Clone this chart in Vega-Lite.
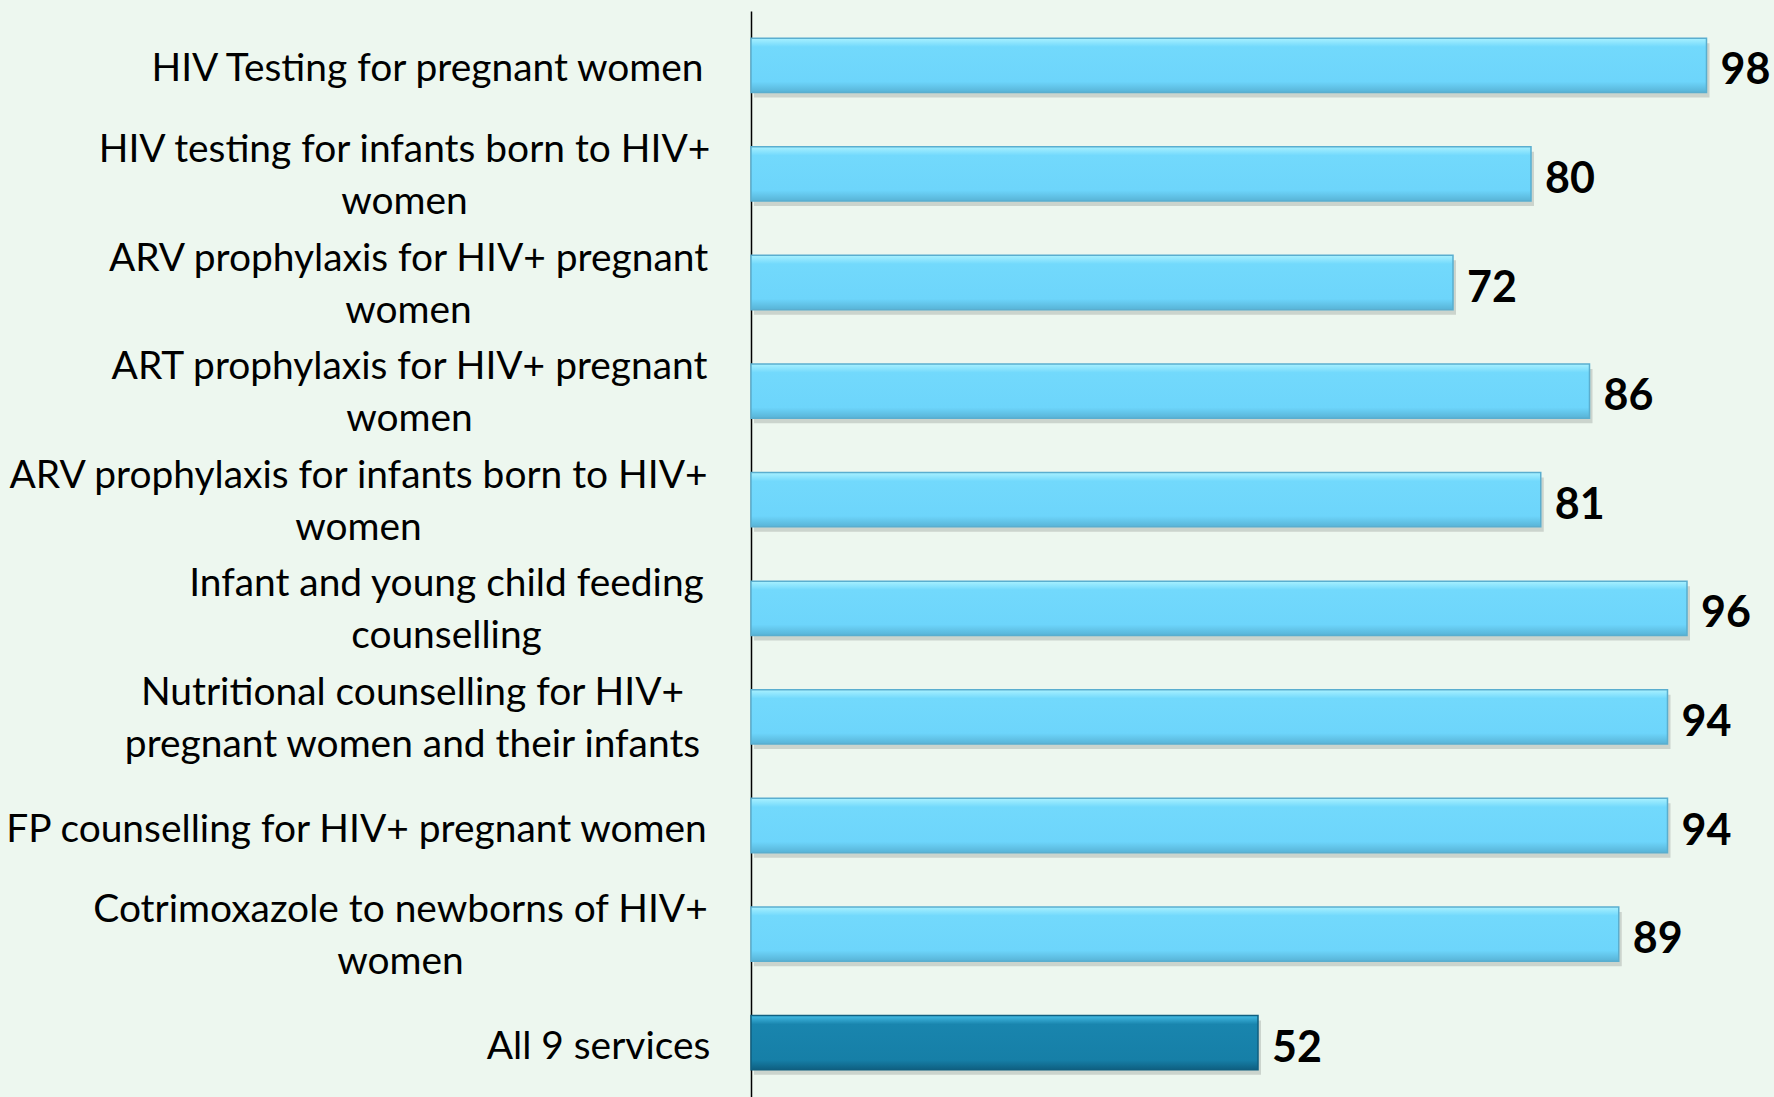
{
  "$schema": "https://vega.github.io/schema/vega-lite/v6.json",
  "autosize": "none",
  "width": 975,
  "height": 1086,
  "padding": {"left": 751, "top": 11, "right": 48, "bottom": 0},
  "background": "#EDF7EF",
  "config": {"view": {"stroke": null}},
  "data": {
    "values": [
      {"service": "HIV Testing for pregnant women", "pct": 98, "group": "service"},
      {"service": "HIV testing for infants born to HIV+|women", "pct": 80, "group": "service"},
      {"service": "ARV prophylaxis for HIV+ pregnant|women", "pct": 72, "group": "service"},
      {"service": "ART prophylaxis for HIV+ pregnant|women", "pct": 86, "group": "service"},
      {"service": "ARV prophylaxis for infants born to HIV+|women", "pct": 81, "group": "service"},
      {"service": "Infant and young child feeding|counselling", "pct": 96, "group": "service"},
      {"service": "Nutritional counselling for HIV+|pregnant women and their infants", "pct": 94, "group": "service"},
      {"service": "FP counselling for HIV+ pregnant women", "pct": 94, "group": "service"},
      {"service": "Cotrimoxazole to newborns of HIV+|women", "pct": 89, "group": "service"},
      {"service": "All 9 services", "pct": 52, "group": "all"}
    ]
  },
  "encoding": {
    "y": {
      "field": "service",
      "type": "nominal",
      "sort": null,
      "scale": {"paddingInner": 0.5, "paddingOuter": 0.25},
      "axis": {
        "title": null,
        "ticks": false,
        "grid": false,
        "domain": true,
        "domainColor": "#000000",
        "domainWidth": 1.5,
        "labelExpr": "split(datum.label, '|')",
        "labelFont": "Lato",
        "labelFontSize": 38.9,
        "labelColor": "#000000",
        "labelLimit": 0,
        "labelLineHeight": 52,
        "labelAlign": "center",
        "labelBaseline": "middle",
        "labelOffset": {
          "condition": {"test": "indexof(datum.value, '|') >= 0", "value": -24},
          "value": 4
        },
        "labelPadding": {
          "condition": [
            {"test": "datum.value == 'HIV Testing for pregnant women'", "value": 324},
            {"test": "datum.value == 'HIV testing for infants born to HIV+|women'", "value": 347},
            {"test": "datum.value == 'ARV prophylaxis for HIV+ pregnant|women'", "value": 343},
            {"test": "datum.value == 'ART prophylaxis for HIV+ pregnant|women'", "value": 342},
            {"test": "datum.value == 'ARV prophylaxis for infants born to HIV+|women'", "value": 393},
            {"test": "datum.value == 'Infant and young child feeding|counselling'", "value": 305},
            {"test": "datum.value == 'Nutritional counselling for HIV+|pregnant women and their infants'", "value": 339},
            {"test": "datum.value == 'FP counselling for HIV+ pregnant women'", "value": 395},
            {"test": "datum.value == 'Cotrimoxazole to newborns of HIV+|women'", "value": 351},
            {"test": "datum.value == 'All 9 services'", "value": 153}
          ],
          "value": 300
        }
      }
    },
    "x": {"field": "pct", "type": "quantitative", "scale": {"domain": [0, 100]}, "axis": null}
  },
  "layer": [
    {
      "mark": {"type": "bar", "color": "#000000", "opacity": 0.14, "xOffset": 3, "yOffset": 5}
    },
    {
      "transform": [{"filter": "datum.group == 'service'"}],
      "mark": {
        "type": "bar",
        "stroke": "#5AAECF",
        "strokeWidth": 1.5,
        "color": {
          "gradient": "linear",
          "x1": 0, "y1": 0, "x2": 0, "y2": 1,
          "stops": [
            {"offset": 0, "color": "#A9F1FF"},
            {"offset": 0.16, "color": "#72D9FC"},
            {"offset": 0.8, "color": "#6DD5FB"},
            {"offset": 1, "color": "#58B3D6"}
          ]
        }
      }
    },
    {
      "transform": [{"filter": "datum.group == 'all'"}],
      "mark": {
        "type": "bar",
        "stroke": "#0F5F80",
        "strokeWidth": 1.5,
        "color": {
          "gradient": "linear",
          "x1": 0, "y1": 0, "x2": 0, "y2": 1,
          "stops": [
            {"offset": 0, "color": "#45BDE6"},
            {"offset": 0.16, "color": "#1985AE"},
            {"offset": 0.82, "color": "#167FA7"},
            {"offset": 1, "color": "#0E5E80"}
          ]
        }
      }
    },
    {
      "mark": {"type": "text", "align": "left", "baseline": "middle", "dx": 14, "dy": 6, "font": "Lato", "fontSize": 43, "fontWeight": "bold", "color": "#000000"},
      "encoding": {
        "text": {"field": "pct", "type": "quantitative"}
      }
    }
  ]
}
